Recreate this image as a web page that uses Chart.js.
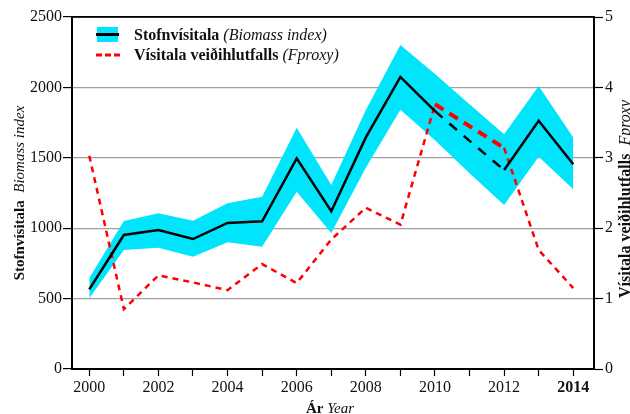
<!DOCTYPE html>
<html>
<head>
<meta charset="utf-8">
<script src="https://cdn.jsdelivr.net/npm/chart.js@4/dist/chart.umd.min.js"></script>
<style>
html,body{margin:0;padding:0;background:#fff;}
#wrap{width:630px;height:414px;position:relative;}
</style>
</head>
<body>
<div id="wrap"><canvas id="c"></canvas></div>
<script>
const years = [2000,2001,2002,2003,2004,2005,2006,2007,2008,2009,2010,2011,2012,2013,2014];
const biomass = [566,952,987,923,1037,1049,1496,1120,1645,2074,1832,1620,1413,1763,1454];
const biomassUpper = [646,1051,1106,1053,1177,1224,1714,1307,1840,2301,2096,1880,1667,2010,1645];
const biomassLower = [502,845,862,798,900,869,1259,966,1430,1842,1625,1390,1165,1508,1276];
const fproxy = [3.03,0.85,1.33,1.23,1.12,1.49,1.22,1.84,2.29,2.05,3.76,3.45,3.14,1.69,1.15];
const xTickLabels = ['2000','','2002','','2004','','2006','','2008','','2010','','2012','','2014'];
const leftTicks = [0,500,1000,1500,2000,2500];
const rightTicks = [0,1,2,3,4,5];

const CYAN = '#00e5fb';
const SERIF = '"Liberation Serif","Times New Roman",serif';

function pts(vals){ return years.map((y,i)=>({x:y,y:vals[i]})); }
const inGap = ctx => ctx.p0DataIndex >= 10 && ctx.p1DataIndex <= 12;

function drawMixed(ctx, parts, x, y, align){
  let total = 0;
  const widths = parts.map(p=>{ctx.font=p.font; const w=ctx.measureText(p.text).width; total+=w; return w;});
  let cx = align==='center' ? x - total/2 : x;
  parts.forEach((p,i)=>{ctx.font=p.font; ctx.fillText(p.text, cx, y); cx+=widths[i];});
}

const overlay = {
  id:'overlay',
  afterDraw(chart){
    const ctx = chart.ctx;
    const a = chart.chartArea;
    ctx.save();
    ctx.textBaseline = 'alphabetic';
    ctx.textAlign = 'left';
    // legend
    ctx.fillStyle = CYAN;
    ctx.fillRect(97,27,21,15);
    ctx.strokeStyle = '#000'; ctx.lineWidth = 3;
    ctx.beginPath(); ctx.moveTo(96,34.5); ctx.lineTo(119,34.5); ctx.stroke();
    ctx.strokeStyle = '#ff0000'; ctx.lineWidth = 3; ctx.setLineDash([6,3]);
    ctx.beginPath(); ctx.moveTo(96,55); ctx.lineTo(120,55); ctx.stroke();
    ctx.setLineDash([]);
    ctx.fillStyle = '#111';
    drawMixed(ctx,[{text:'Stofnvísitala ',font:'bold 16px '+SERIF},{text:'(Biomass index)',font:'italic 16px '+SERIF}],134,40,'left');
    drawMixed(ctx,[{text:'Vísitala veiðihlutfalls ',font:'bold 16px '+SERIF},{text:'(Fproxy)',font:'italic 16px '+SERIF}],134,60,'left');
    // x title
    drawMixed(ctx,[{text:'Ár ',font:'bold 15px '+SERIF},{text:'Year',font:'italic 15px '+SERIF}],330,413,'center');
    // left title
    ctx.save();
    ctx.translate(24,(a.top+a.bottom)/2);
    ctx.rotate(-Math.PI/2);
    drawMixed(ctx,[{text:'Stofnvísitala  ',font:'bold 15px '+SERIF},{text:'Biomass index',font:'italic 15px '+SERIF}],0,0,'center');
    ctx.restore();
    // right title
    ctx.save();
    ctx.translate(630,199);
    ctx.rotate(-Math.PI/2);
    drawMixed(ctx,[{text:'Vísitala veiðihlutfalls  ',font:'bold 16px '+SERIF},{text:'Fproxy',font:'italic 16px '+SERIF}],0,0,'center');
    ctx.restore();
    // top border
    ctx.strokeStyle='#000'; ctx.lineWidth=1.5;
    ctx.beginPath(); ctx.moveTo(a.left,a.top); ctx.lineTo(a.right,a.top); ctx.stroke();
    ctx.restore();
  }
};

new Chart(document.getElementById('c'),{
  type:'line',
  data:{
    datasets:[
      {label:'upper',data:pts(biomassUpper),yAxisID:'y',borderWidth:0,pointRadius:0,backgroundColor:CYAN,fill:'+1',tension:0,order:3},
      {label:'lower',data:pts(biomassLower),yAxisID:'y',borderWidth:0,pointRadius:0,backgroundColor:CYAN,fill:false,tension:0,order:3},
      {label:'Fproxy',data:pts(fproxy),yAxisID:'y1',borderColor:'#ff0000',borderWidth:2.5,borderDash:[6,5],pointRadius:0,fill:false,tension:0,order:2,
        segment:{borderDash:ctx=>inGap(ctx)?[10,7]:[6,5],borderWidth:ctx=>inGap(ctx)?4:2.5}},
      {label:'Biomass',data:pts(biomass),yAxisID:'y',borderColor:'#000',borderWidth:2.5,pointRadius:0,fill:false,tension:0,order:1,
        segment:{borderDash:ctx=>inGap(ctx)?[10,9]:[]}}
    ]
  },
  options:{
    responsive:true,maintainAspectRatio:false,animation:false,
    layout:{padding:{top:17,left:0,right:0,bottom:0}},
    plugins:{legend:{display:false},tooltip:{enabled:false}},
    scales:{
      x:{type:'linear',min:1999.5,max:2014.6,
        afterBuildTicks:s=>{s.ticks=years.map(v=>({value:v}));},
        afterFit:s=>{s.height=45;},
        grid:{drawOnChartArea:false,drawTicks:true,tickLength:7,tickColor:'#000',tickWidth:1.2},
        border:{display:true,color:'#000',width:2},
        ticks:{color:'#111',padding:2,maxRotation:0,autoSkip:false,
          font:ctx=>({family:SERIF,size:16,weight:(ctx.tick&&ctx.tick.value===2014)?'bold':'normal'}),
          callback:(v,i)=>xTickLabels[i]}
      },
      y:{position:'left',min:0,max:2500,
        afterBuildTicks:s=>{s.ticks=leftTicks.map(v=>({value:v}));},
        afterFit:s=>{s.width=72;},
        grid:{color:ctx=>ctx.tick&&ctx.tick.value===2500?'#000':'#a0a0a0',lineWidth:1.2,drawTicks:true,tickLength:9,tickColor:'#000',tickWidth:1.2},
        border:{display:true,color:'#000',width:2},
        ticks:{color:'#111',padding:1,font:{family:SERIF,size:16},callback:v=>String(v)}
      },
      y1:{position:'right',min:0,max:5,
        afterBuildTicks:s=>{s.ticks=rightTicks.map(v=>({value:v}));},
        afterFit:s=>{s.width=36;},
        grid:{drawOnChartArea:false,drawTicks:true,tickLength:9,tickColor:'#000',tickWidth:1.2},
        border:{display:true,color:'#000',width:2},
        ticks:{color:'#111',padding:2,font:{family:SERIF,size:16},callback:v=>String(v)}
      }
    }
  },
  plugins:[overlay]
});
</script>
</body>
</html>
